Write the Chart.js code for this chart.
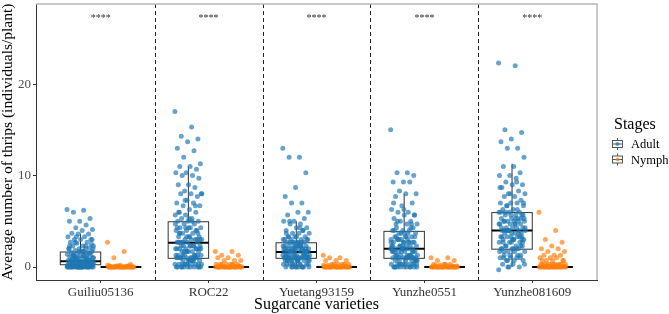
<!DOCTYPE html>
<html lang="en">
<head>
<meta charset="UTF-8">
<title>Thrips per sugarcane variety</title>
<style>
  html, body { margin: 0; padding: 0; background: #fff; }
  #wrap { position: relative; width: 669px; height: 314px; }
</style>
</head>
<body>
<div id="wrap"><canvas id="thripsChart" width="669" height="314"></canvas></div>

<script src="https://cdn.jsdelivr.net/npm/chart.js@4.4.0/dist/chart.umd.min.js"></script>
<script>
// categories and tick labels
const varieties = ['Guiliu05136', 'ROC22', 'Yuetang93159', 'Yunzhe0551', 'Yunzhe081609'];
const yTicks = [0, 10, 20];
const stars = ['****', '****', '****', '****', '****'];
const starLevel = 27.2;

// individual plant values (adult)
const adultGuiliu = [6.3, 6.2, 6.0, 5.3, 5.0, 5.0, 4.6, 4.3, 4.1, 4.0, 3.7, 3.6, 3.6, 3.3, 3.3, 3.0, 3.0, 3.0, 2.7, 2.7,
  2.6, 2.3, 2.3, 2.3, 2.1, 2.0, 2.0, 2.0, 1.8, 1.7, 1.7, 1.6, 1.6, 1.5, 1.4, 1.3, 1.3, 1.3, 1.2, 1.1,
  1.0, 1.0, 1.0, 1.0, 0.9, 0.8, 0.7, 0.7, 0.7, 0.7, 0.6, 0.6, 0.6, 0.5, 0.5, 0.5, 0.4, 0.4, 0.4, 0.3,
  0.3, 0.3, 0.3, 0.3, 0.2, 0.2, 0.2, 0.2, 0.1, 0.1, 0.1, 0.1, 0, 0, 0, 0, 0, 0, 0, 0,
  0, 0, 0, 0, 0, 0, 0, 0, 0, 0, 1.7, 1.0, 0.7, 0.3, 2.3, 1.3, 0.5, 0.2, 0, 0,
  0, 0, 0.1, 0.2, 0.3, 0.4, 0.5, 0.6, 0.7, 0.8, 1.0, 1.2, 1.3, 1.5, 1.7, 2.0, 2.3, 2.7, 3.0, 0,
  0.3, 0.7, 1.0, 0.2, 0.5, 1.3, 0.1, 0, 0.4, 0.9, 3.3, 2.0, 1.7, 0.6, 0.3, 0, 0, 0.5, 1.1, 2.5];
const adultRoc = [17.0, 15.3, 14.3, 14.0, 13.7, 13.0, 12.7, 12.0, 11.3, 11.0, 11.0, 10.7, 10.3, 10.3, 10.0, 10.0, 9.7, 9.0, 9.0, 8.7,
  8.3, 8.0, 8.0, 8.0, 7.7, 7.3, 7.0, 7.0, 6.7, 6.7, 6.3, 6.0, 6.0, 5.7, 5.7, 5.3, 5.3, 5.0, 5.0, 5.0,
  4.7, 4.7, 4.3, 4.3, 4.3, 4.0, 4.0, 4.0, 3.7, 3.7, 3.3, 3.3, 3.3, 3.0, 3.0, 3.0, 3.0, 2.7, 2.7, 2.7,
  2.7, 2.3, 2.3, 2.3, 2.3, 2.0, 2.0, 2.0, 2.0, 1.7, 1.7, 1.7, 1.7, 1.3, 1.3, 1.3, 1.3, 1.0, 1.0, 1.0,
  1.0, 1.0, 0.7, 0.7, 0.7, 0.7, 0.3, 0.3, 0.3, 0.3, 0.3, 0, 0, 0, 0, 0, 0, 0, 0, 3.7,
  2.0, 1.7, 1.3, 0.7, 0.3, 0, 4.3, 2.7, 1.0, 0.3,
  0.3, 0.7, 1.0, 1.3, 1.7, 2.0, 2.3, 2.7, 3.0, 3.3, 3.7, 4.0, 4.3, 4.7, 5.0, 0, 0.3, 0.7, 1.0, 1.3,
  1.7, 2.0, 2.3, 2.7, 3.0, 3.3, 0, 0.7, 1.3, 2.0, 5.3, 6.0, 6.7, 7.3, 8.0, 1.0, 2.3, 3.7, 0.3, 4.3];
const adultYuetang = [13.0, 12.0, 12.0, 10.3, 8.7, 7.7, 7.0, 7.0, 6.0, 6.0, 5.7, 5.3, 5.0, 5.0, 4.7, 4.7, 4.3, 4.3, 4.0, 4.0,
  3.7, 3.7, 3.7, 3.3, 3.3, 3.3, 3.0, 3.0, 3.0, 3.0, 2.7, 2.7, 2.7, 2.7, 2.3, 2.3, 2.3, 2.3, 2.3, 2.0,
  2.0, 2.0, 2.0, 2.0, 1.7, 1.7, 1.7, 1.7, 1.7, 1.7, 1.3, 1.3, 1.3, 1.3, 1.3, 1.3, 1.0, 1.0, 1.0, 1.0,
  1.0, 1.0, 0.7, 0.7, 0.7, 0.7, 0.7, 0.3, 0.3, 0.3, 0.3, 0.3, 0, 0, 0, 0, 0, 0, 2.0, 1.7,
  1.3, 1.0, 2.3, 1.7, 1.0, 0.7, 0.3, 0, 2.7, 1.3, 0.3, 1.7, 2.0, 1.0, 0.7, 0,
  0, 0.3, 0.7, 1.0, 1.3, 1.7, 2.0, 2.3, 2.7, 3.0, 3.3, 3.7, 4.0, 0.3, 0.7, 1.0, 1.3, 1.7, 2.0, 2.3,
  2.7, 1.0, 1.7, 2.3, 0.7, 1.3, 2.0, 3.0, 4.3, 5.0, 1.7, 0, 1.3, 2.0, 0.7, 1.0, 2.7, 3.3, 1.7, 2.3];
const adultYz0551 = [15.0, 10.3, 10.3, 10.0, 9.3, 9.3, 9.3, 8.3, 8.0, 8.0, 7.7, 7.0, 6.7, 6.3, 6.0, 6.0, 5.7, 5.7, 5.3, 5.0,
  5.0, 4.7, 4.7, 4.3, 4.3, 4.0, 4.0, 4.0, 3.7, 3.7, 3.3, 3.3, 3.3, 3.0, 3.0, 3.0, 3.0, 2.7, 2.7, 2.7,
  2.3, 2.3, 2.3, 2.3, 2.0, 2.0, 2.0, 2.0, 2.0, 1.7, 1.7, 1.7, 1.7, 1.3, 1.3, 1.3, 1.3, 1.0, 1.0, 1.0,
  1.0, 1.0, 0.7, 0.7, 0.7, 0.7, 0.3, 0.3, 0.3, 0.3, 0.3, 0, 0, 0, 0, 0, 0, 0, 3.3, 2.7,
  2.3, 1.7, 1.3, 1.0, 0.7, 0.3, 0, 4.7, 3.7, 2.0, 1.0, 0, 0.3, 2.7, 1.7,
  0, 0.3, 0.7, 1.0, 1.3, 1.7, 2.0, 2.3, 2.7, 3.0, 3.3, 3.7, 4.0, 4.3, 0.3, 0.7, 1.0, 1.3, 1.7, 2.0,
  2.3, 2.7, 3.0, 1.0, 2.0, 0, 0.7, 1.7, 2.7, 3.7, 5.0, 5.7, 6.3, 7.0, 1.3, 2.3, 0.3, 3.3, 4.7, 1.0];
const adultYz081609 = [22.3, 22.0, 15.0, 14.7, 14.0, 13.7, 13.0, 13.0, 12.0, 11.0, 11.0, 10.3, 10.0, 10.0, 9.7, 9.3, 9.0, 9.0, 8.7, 8.3,
  8.0, 8.0, 7.7, 7.7, 7.3, 7.0, 7.0, 7.0, 6.7, 6.7, 6.3, 6.3, 6.0, 6.0, 6.0, 5.7, 5.7, 5.7, 5.3, 5.3,
  5.3, 5.0, 5.0, 5.0, 5.0, 4.7, 4.7, 4.7, 4.3, 4.3, 4.3, 4.3, 4.0, 4.0, 4.0, 4.0, 3.7, 3.7, 3.7, 3.3,
  3.3, 3.3, 3.3, 3.0, 3.0, 3.0, 2.7, 2.7, 2.7, 2.3, 2.3, 2.3, 2.0, 2.0, 2.0, 1.7, 1.7, 1.7, 1.3, 1.3,
  1.0, 1.0, 1.0, 0.7, 0.7, 0.3, 0.3, 0, 0, -0.3, 4.7, 4.0, 3.3, 2.7, 2.0, 1.3, 0.7, 5.3, 3.0, 1.0,
  1.0, 1.3, 1.7, 2.0, 2.3, 2.7, 3.0, 3.3, 3.7, 4.0, 4.3, 4.7, 5.0, 5.3, 5.7, 6.0, 6.3, 6.7, 7.0, 2.0,
  2.7, 3.3, 4.0, 4.7, 5.3, 6.0, 3.0, 3.7, 4.3, 5.0, 0, 0.3, 0.7, 1.7, 2.3, 8.0, 8.7, 9.3, 4.0, 5.7];

// individual plant values (nymph)
const nymphGuiliu = [2.7, 1.7, 1.0, 0.3, 0.2, 0.1, 0.1, 0.1, 0, 0, 0, 0, 0, 0, 0, 0, 0, 0, 0, 0,
  0, 0, 0, 0, 0, 0, 0, 0, 0, 0, 0, 0, 0.1, 0.1, 0.2, 0, 0, 0, 0, 0];
const nymphRoc = [1.7, 1.7, 1.3, 1.3, 1.0, 1.0, 0.7, 0.7, 0.7, 0.3, 0.3, 0.3, 0.3, 0.3, 0.2, 0.1, 0.1, 0, 0, 0,
  0, 0, 0, 0, 0, 0, 0, 0, 0, 0, 0, 0, 0, 0, 0, 0.3, 0.3, 0.1, 0, 0, 0, 0, 0, 0];
const nymphYuetang = [1.3, 1.0, 1.0, 0.7, 0.7, 0.7, 0.3, 0.3, 0.3, 0.3, 0.2, 0.1, 0.1, 0, 0, 0, 0, 0, 0, 0,
  0, 0, 0, 0, 0, 0, 0, 0, 0, 0, 0, 0, 0.3, 0.3, 0.2, 0, 0, 0, 0, 0];
const nymphYz0551 = [1.0, 1.0, 0.7, 0.7, 0.3, 0.3, 0.3, 0.2, 0.1, 0.1, 0, 0, 0, 0, 0, 0, 0, 0, 0, 0,
  0, 0, 0, 0, 0, 0, 0, 0, 0, 0, 0.3, 0.2, 0.1, 0, 0, 0, 0, 0];
const nymphYz081609 = [6.0, 4.0, 3.0, 2.7, 2.3, 2.0, 2.0, 1.7, 1.7, 1.3, 1.3, 1.3, 1.0, 1.0, 1.0, 0.7, 0.7, 0.7, 0.7, 0.3,
  0.3, 0.3, 0.3, 0.3, 0.3, 0.3, 0.3, 0.2, 0.1, 0.1, 0, 0, 0, 0, 0, 0, 0, 0, 0, 0,
  0, 0, 0, 0, 0, 0, 0, 0, 0, 0, 0.7, 0.3, 0.3, 0.1, 0, 0];

const adultValues = [adultGuiliu, adultRoc, adultYuetang, adultYz0551, adultYz081609];
const nymphValues = [nymphGuiliu, nymphRoc, nymphYuetang, nymphYz0551, nymphYz081609];

// boxplot statistics
const adultLow = [0, 0, 0, 0, 0];
const adultQ1 = [0.25, 0.95, 0.95, 0.95, 1.95];
const adultMedian = [0.62, 2.65, 1.65, 2.0, 4.0];
const adultQ3 = [1.64, 4.95, 2.65, 3.9, 5.95];
const adultHigh = [3.65, 11.0, 5.0, 8.0, 11.3];
const nymphLow = [0, 0, 0, 0, 0];
const nymphQ1 = [0, 0, 0, 0, 0];
const nymphMedian = [0, 0, 0, 0, 0];
const nymphQ3 = [0, 0, 0, 0, 0];
const nymphHigh = [0, 0, 0, 0, 0];

const adultColor = 'rgba(31,119,180,0.68)';
const nymphColor = 'rgba(255,127,14,0.68)';
const serif = "'Liberation Serif', 'DejaVu Serif', serif";
const dodge = 0.1875;   // half of a dodged box slot
const boxHalf = 0.1875;
const jitterWidth = 0.25;

// spread points sideways inside their box, evenly, not randomly
function jitter(i) {
    return (((i * 0.6180339) % 1) - 0.5) * jitterWidth;
}

function toPoints(groups, side) {
    const pts = [];
    groups.forEach((vals, g) => {
        vals.forEach((v, i) => {
            pts.push({ x: g + 1 + side * dodge + jitter(i), y: v });
        });
    });
    return pts;
}

function drawBox(ctx, x, y, cx, low, q1, med, q3, high) {
    const l = x.getPixelForValue(cx - boxHalf);
    const r = x.getPixelForValue(cx + boxHalf);
    const m = x.getPixelForValue(cx);
    ctx.strokeStyle = '#333';
    ctx.lineWidth = 1;
    ctx.beginPath();
    ctx.moveTo(m, y.getPixelForValue(q3));
    ctx.lineTo(m, y.getPixelForValue(high));
    ctx.moveTo(m, y.getPixelForValue(q1));
    ctx.lineTo(m, y.getPixelForValue(low));
    ctx.stroke();
    ctx.strokeRect(l, y.getPixelForValue(q3), r - l, y.getPixelForValue(q1) - y.getPixelForValue(q3));
    ctx.strokeStyle = '#000';
    ctx.lineWidth = 2;
    ctx.beginPath();
    ctx.moveTo(l, y.getPixelForValue(med));
    ctx.lineTo(r, y.getPixelForValue(med));
    ctx.stroke();
}

function legendKey(ctx, x0, yc, color) {
    ctx.strokeStyle = '#555';
    ctx.lineWidth = 1;
    ctx.beginPath();
    ctx.moveTo(x0 + 5.5, yc - 6); ctx.lineTo(x0 + 5.5, yc - 3.5);
    ctx.moveTo(x0 + 5.5, yc + 3.5); ctx.lineTo(x0 + 5.5, yc + 6);
    ctx.stroke();
    ctx.strokeRect(x0 + 0.5, yc - 3.5, 10, 7);
    ctx.beginPath();
    ctx.moveTo(x0 + 0.5, yc); ctx.lineTo(x0 + 10.5, yc);
    ctx.stroke();
    ctx.fillStyle = color;
    ctx.beginPath();
    ctx.arc(x0 + 5.5, yc, 2, 0, Math.PI * 2);
    ctx.fill();
}

const boxPlugin = {
    id: 'boxes',
    beforeDatasetsDraw(chart) {
        const { ctx, chartArea, scales: { x, y } } = chart;
        ctx.save();
        // dashed separators between varieties
        ctx.strokeStyle = '#222';
        ctx.lineWidth = 1;
        ctx.setLineDash([4, 3]);
        for (let i = 1; i < varieties.length; i++) {
            const px = Math.round(x.getPixelForValue(i + 0.5)) + 0.5;
            ctx.beginPath();
            ctx.moveTo(px, chartArea.top);
            ctx.lineTo(px, chartArea.bottom);
            ctx.stroke();
        }
        ctx.setLineDash([]);
        varieties.forEach((v, i) => {
            drawBox(ctx, x, y, i + 1 - dodge, adultLow[i], adultQ1[i], adultMedian[i], adultQ3[i], adultHigh[i]);
            drawBox(ctx, x, y, i + 1 + dodge, nymphLow[i], nymphQ1[i], nymphMedian[i], nymphQ3[i], nymphHigh[i]);
        });
        ctx.restore();
    },
    afterDraw(chart) {
        const { ctx, chartArea, scales: { x, y } } = chart;
        ctx.save();
        // light panel border top and right
        ctx.strokeStyle = '#b8b8b8';
        ctx.lineWidth = 1.5;
        ctx.beginPath();
        ctx.moveTo(chartArea.left, chartArea.top);
        ctx.lineTo(chartArea.right, chartArea.top);
        ctx.lineTo(chartArea.right, chartArea.bottom);
        ctx.stroke();

        // significance marks
        ctx.fillStyle = '#333';
        ctx.font = '10px ' + serif;
        ctx.textAlign = 'center';
        ctx.textBaseline = 'middle';
        stars.forEach((s, i) => {
            ctx.fillText(s, x.getPixelForValue(i + 1), y.getPixelForValue(starLevel));
        });

        // legend
        ctx.textAlign = 'left';
        ctx.textBaseline = 'alphabetic';
        ctx.fillStyle = '#000';
        ctx.font = '16px ' + serif;
        ctx.fillText('Stages', 614, 129);
        ctx.font = '12.5px ' + serif;
        ctx.textBaseline = 'middle';
        legendKey(ctx, 612, 144, adultColor);
        ctx.fillStyle = '#000';
        ctx.fillText('Adult', 631, 145);
        legendKey(ctx, 612, 159.5, nymphColor);
        ctx.fillStyle = '#000';
        ctx.fillText('Nymph', 631, 160.5);
        ctx.restore();
    }
};

new Chart(document.getElementById('thripsChart'), {
    type: 'scatter',
    data: {
        datasets: [
            {
                label: 'Adult',
                data: toPoints(adultValues, -1),
                backgroundColor: adultColor,
                borderWidth: 0,
                pointRadius: 2.5
            },
            {
                label: 'Nymph',
                data: toPoints(nymphValues, 1),
                backgroundColor: nymphColor,
                borderWidth: 0,
                pointRadius: 2.5
            }
        ]
    },
    options: {
        responsive: false,
        animation: false,
        layout: { padding: { top: 3, right: 72, left: 0, bottom: 0 } },
        plugins: {
            legend: { display: false },
            tooltip: { enabled: false }
        },
        scales: {
            x: {
                type: 'linear',
                min: 0.4,
                max: 5.6,
                afterBuildTicks: (s) => { s.ticks = varieties.map((v, i) => ({ value: i + 1 })); },
                afterFit: (s) => { s.height = 34; s.paddingLeft = 0; s.paddingRight = 0; },
                grid: { drawOnChartArea: false, drawTicks: true, tickLength: 3, color: '#333' },
                border: { display: true, color: '#333', width: 1 },
                ticks: {
                    autoSkip: false,
                    maxRotation: 0,
                    padding: 2,
                    color: '#333',
                    font: { family: serif, size: 13 },
                    callback: (v) => varieties[v - 1]
                },
                title: {
                    display: true,
                    text: 'Sugarcane varieties',
                    color: '#000',
                    font: { family: serif, size: 16, lineHeight: 1.1 },
                    padding: { top: 0, bottom: 0 }
                }
            },
            y: {
                min: -1.42,
                max: 28.76,
                afterBuildTicks: (s) => { s.ticks = yTicks.map(v => ({ value: v })); },
                afterFit: (s) => { s.width = 36; s.paddingTop = 0; s.paddingBottom = 0; },
                grid: { drawOnChartArea: false, drawTicks: true, tickLength: 3, color: '#333' },
                border: { display: true, color: '#333', width: 1 },
                ticks: {
                    padding: 2,
                    color: '#4d4d4d',
                    font: { family: serif, size: 13 }
                },
                title: {
                    display: true,
                    text: 'Average number of thrips (individuals/plant)',
                    color: '#000',
                    font: { family: serif, size: 15.5, lineHeight: 1.0 },
                    padding: { top: 0, bottom: 0 }
                }
            }
        }
    },
    plugins: [boxPlugin]
});
</script>
</body>
</html>
